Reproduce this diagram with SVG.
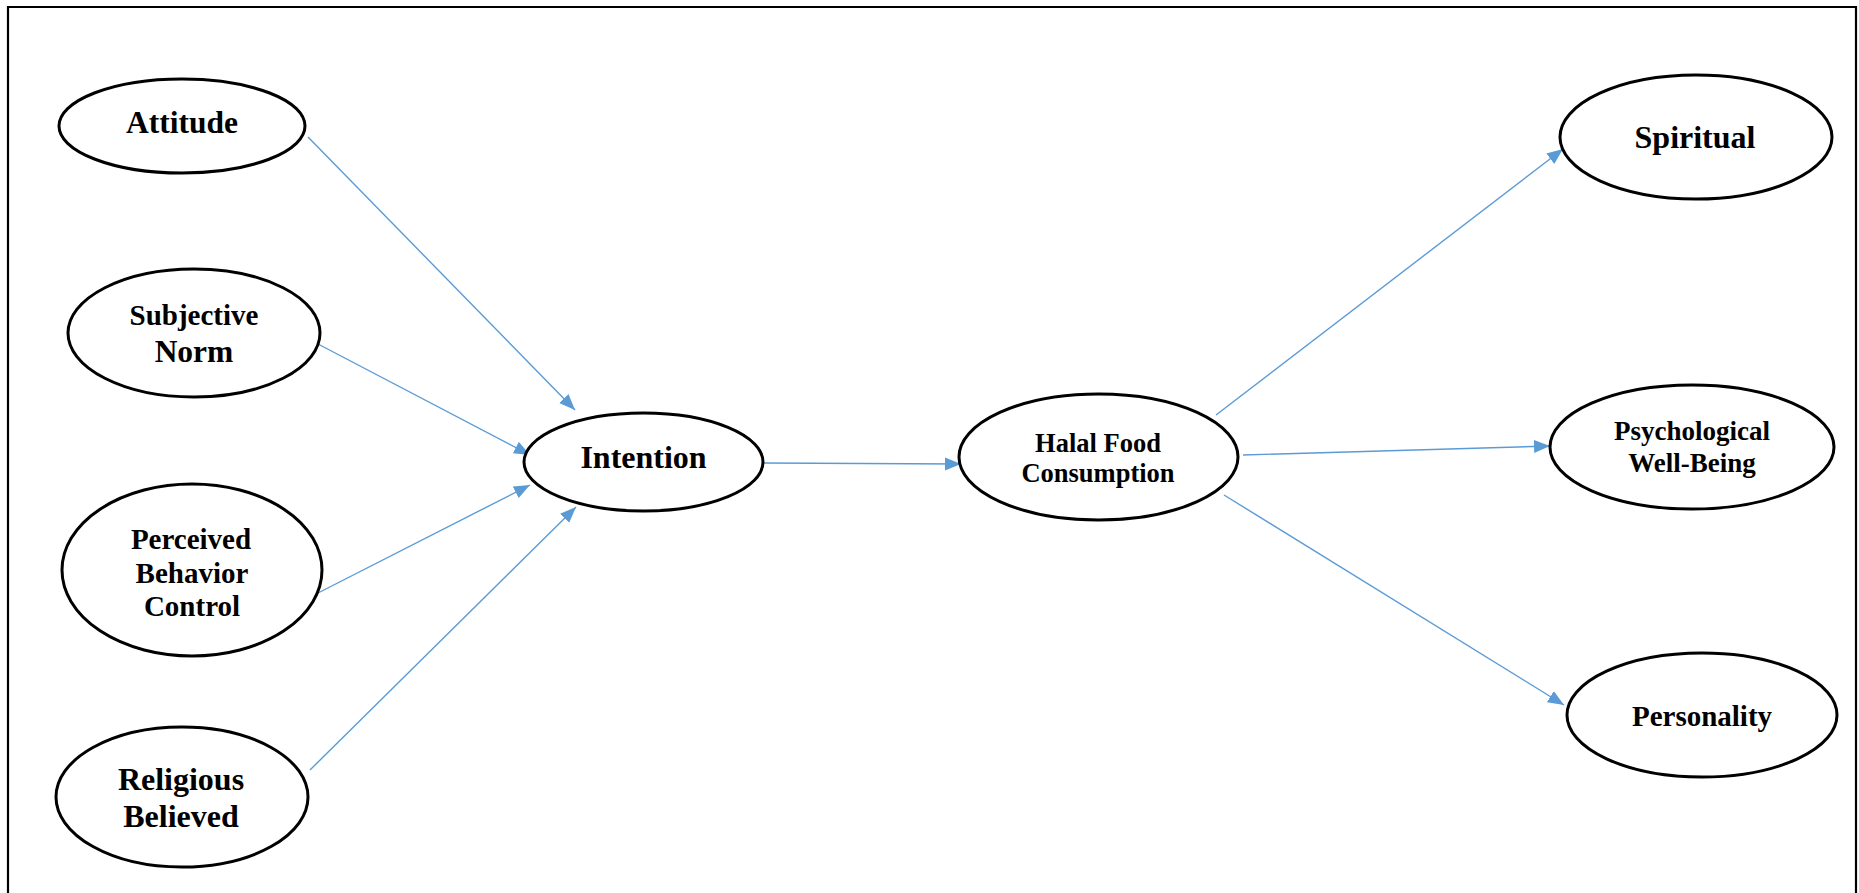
<svg xmlns="http://www.w3.org/2000/svg" width="1859" height="893" viewBox="0 0 1859 893">
<style>
.node ellipse{fill:#fff;stroke:#000;stroke-width:3}
.node text{font-family:"Liberation Serif","Times New Roman",serif;font-weight:bold;text-anchor:middle;fill:#000}
.edge{stroke:#5B9BD5;stroke-width:1.4;fill:none;marker-end:url(#arr)}
</style>
<defs>
<marker id="arr" markerUnits="userSpaceOnUse" markerWidth="17" markerHeight="14" refX="16" refY="6.5" orient="auto">
<path d="M0,0 L16,6.5 L0,13 z" fill="#5B9BD5"/>
</marker>
</defs>
<rect width="1859" height="893" fill="#fff"/>
<path d="M8,900 L8,7 L1856,7 L1856,900" fill="none" stroke="#000" stroke-width="2.2"/>
<g id="connectors">
<line class="edge" x1="308" y1="137" x2="575" y2="410"/>
<line class="edge" x1="318" y1="344" x2="530" y2="455"/>
<line class="edge" x1="318" y1="593" x2="530" y2="485"/>
<line class="edge" x1="310" y1="770" x2="576" y2="507"/>
<line class="edge" x1="763" y1="463" x2="961" y2="464"/>
<line class="edge" x1="1216" y1="415" x2="1563" y2="149"/>
<line class="edge" x1="1243" y1="455" x2="1550" y2="446"/>
<line class="edge" x1="1224" y1="495" x2="1564" y2="705"/>
</g>
<g id="attitude" class="node">
<ellipse cx="182" cy="126" rx="123" ry="47"/>
<text x="182" y="133" font-size="31.5">Attitude</text>
</g>
<g id="subjective-norm" class="node">
<ellipse cx="194" cy="333" rx="126" ry="64"/>
<text x="194" y="325" font-size="29">Subjective</text>
<text x="194" y="362" font-size="31.5">Norm</text>
</g>
<g id="pbc" class="node">
<ellipse cx="192" cy="570" rx="130" ry="86"/>
<text x="191" y="549" font-size="29">Perceived</text>
<text x="192" y="583" font-size="29">Behavior</text>
<text x="192" y="616" font-size="29">Control</text>
</g>
<g id="religious" class="node">
<ellipse cx="182" cy="797" rx="126" ry="70"/>
<text x="181" y="790" font-size="32">Religious</text>
<text x="181" y="827" font-size="32">Believed</text>
</g>
<g id="intention" class="node">
<ellipse cx="643.5" cy="462" rx="119.5" ry="49"/>
<text x="643.5" y="468" font-size="32">Intention</text>
</g>
<g id="halal" class="node">
<ellipse cx="1098.5" cy="457" rx="139.5" ry="63"/>
<text x="1098" y="452" font-size="26.5">Halal Food</text>
<text x="1098" y="482" font-size="26.5">Consumption</text>
</g>
<g id="spiritual" class="node">
<ellipse cx="1696" cy="137" rx="136" ry="62"/>
<text x="1695" y="148" font-size="32">Spiritual</text>
</g>
<g id="psych" class="node">
<ellipse cx="1692" cy="447" rx="142" ry="62"/>
<text x="1692" y="440" font-size="27">Psychological</text>
<text x="1692" y="472" font-size="27">Well-Being</text>
</g>
<g id="personality" class="node">
<ellipse cx="1702" cy="715" rx="135" ry="62"/>
<text x="1702" y="726" font-size="29">Personality</text>
</g>
</svg>
